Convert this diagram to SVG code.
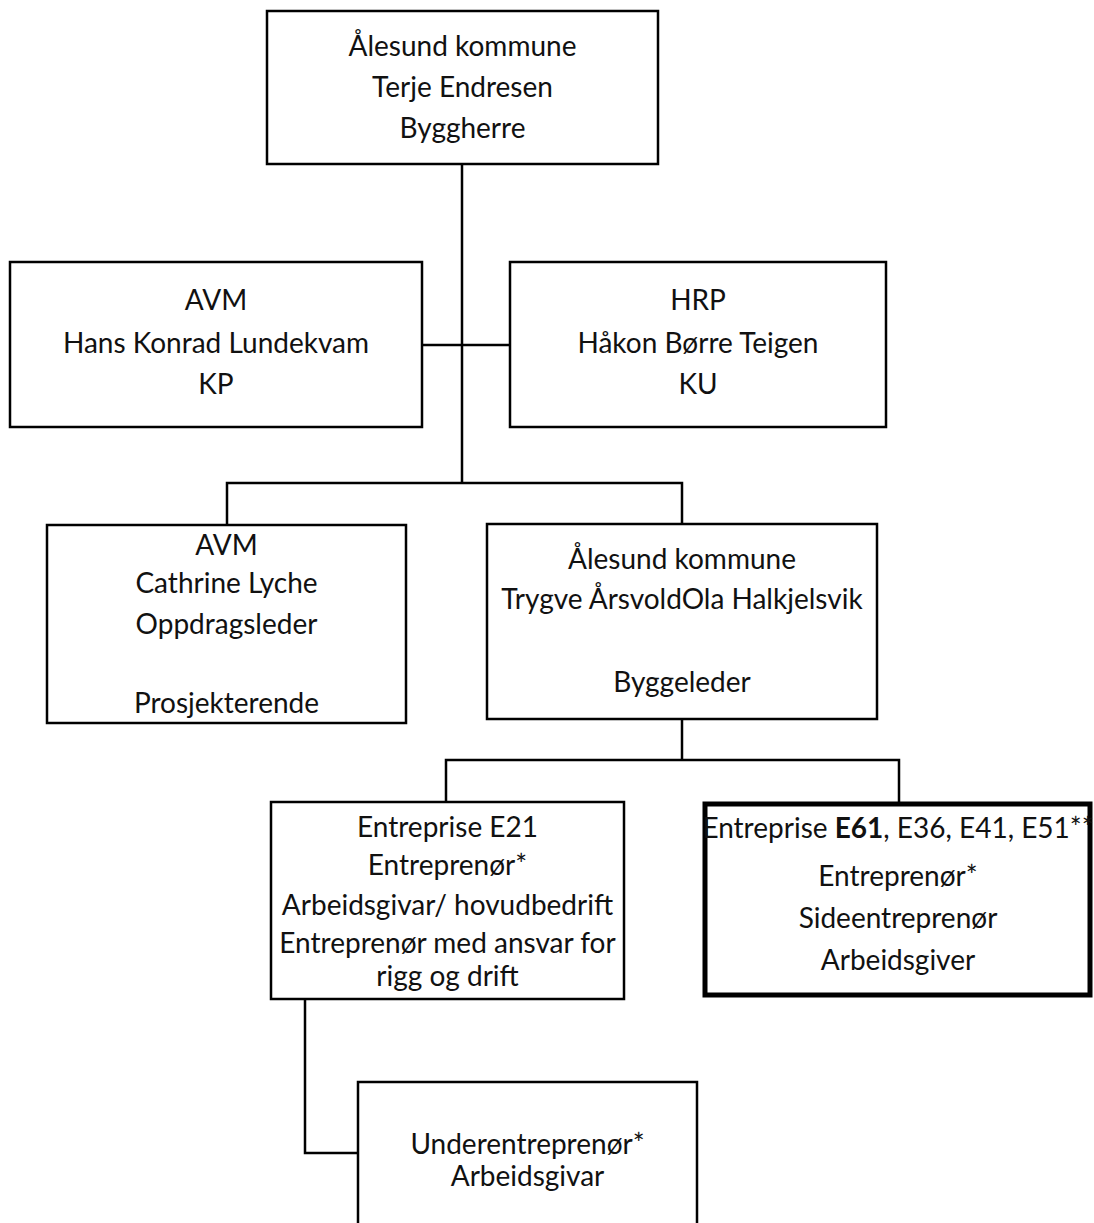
<svg xmlns="http://www.w3.org/2000/svg" width="1094" height="1223" viewBox="0 0 1094 1223">
<style>
.box{fill:#fff;stroke:#000;stroke-width:2.5}
.thick{fill:#fff;stroke:#000;stroke-width:5}
.ln{fill:none;stroke:#000;stroke-width:2.5}
text{font-family:Lato,"Liberation Sans",sans-serif;font-size:28px;fill:#111;text-anchor:middle}
</style>
<rect width="1094" height="1223" fill="#fff"/>
<g id="connectors">
<path class="ln" d="M462,164 V483"/>
<path class="ln" d="M422,345 H510"/>
<path class="ln" d="M227,525 V483 H682 V524"/>
<path class="ln" d="M682,719 V760"/>
<path class="ln" d="M446,802 V760 H899 V802"/>
<path class="ln" d="M305,999 V1153 H358"/>
</g>
<g id="byggherre">
<rect class="box" x="267" y="11" width="391" height="153"/>
<text x="462.5" y="56">Ålesund kommune</text>
<text x="462.5" y="97">Terje Endresen</text>
<text x="462.5" y="138">Byggherre</text>
</g>
<g id="kp">
<rect class="box" x="10" y="262" width="412" height="165"/>
<text x="216" y="310">AVM</text>
<text x="216" y="353">Hans Konrad Lundekvam</text>
<text x="216" y="394">KP</text>
</g>
<g id="ku">
<rect class="box" x="510" y="262" width="376" height="165"/>
<text x="698" y="310">HRP</text>
<text x="698" y="353">Håkon Børre Teigen</text>
<text x="698" y="394">KU</text>
</g>
<g id="prosjekterende">
<rect class="box" x="47" y="525" width="359" height="198"/>
<text x="226.5" y="555">AVM</text>
<text x="226.5" y="593">Cathrine Lyche</text>
<text x="226.5" y="634">Oppdragsleder</text>
<text x="226.5" y="713">Prosjekterende</text>
</g>
<g id="byggeleder">
<rect class="box" x="487" y="524" width="390" height="195"/>
<text x="682" y="569">Ålesund kommune</text>
<text x="682" y="609">Trygve ÅrsvoldOla Halkjelsvik</text>
<text x="682" y="692">Byggeleder</text>
</g>
<g id="e21">
<rect class="box" x="271" y="802" width="353" height="197"/>
<text x="447.5" y="837">Entreprise E21</text>
<text x="447.5" y="875">Entreprenør*</text>
<text x="447.5" y="915">Arbeidsgivar/ hovudbedrift</text>
<text x="447.5" y="953">Entreprenør med ansvar for</text>
<text x="447.5" y="986">rigg og drift</text>
</g>
<g id="e61">
<rect class="thick" x="705" y="804" width="385" height="191"/>
<text x="898" y="838">Entreprise <tspan font-weight="bold">E61</tspan>, E36, E41, E51**</text>
<text x="898" y="886">Entreprenør*</text>
<text x="898" y="928">Sideentreprenør</text>
<text x="898" y="970">Arbeidsgiver</text>
</g>
<g id="underentreprenor">
<rect class="box" x="358" y="1082" width="339" height="150"/>
<text x="527.5" y="1154">Underentreprenør*</text>
<text x="527.5" y="1186">Arbeidsgivar</text>
</g>
</svg>
